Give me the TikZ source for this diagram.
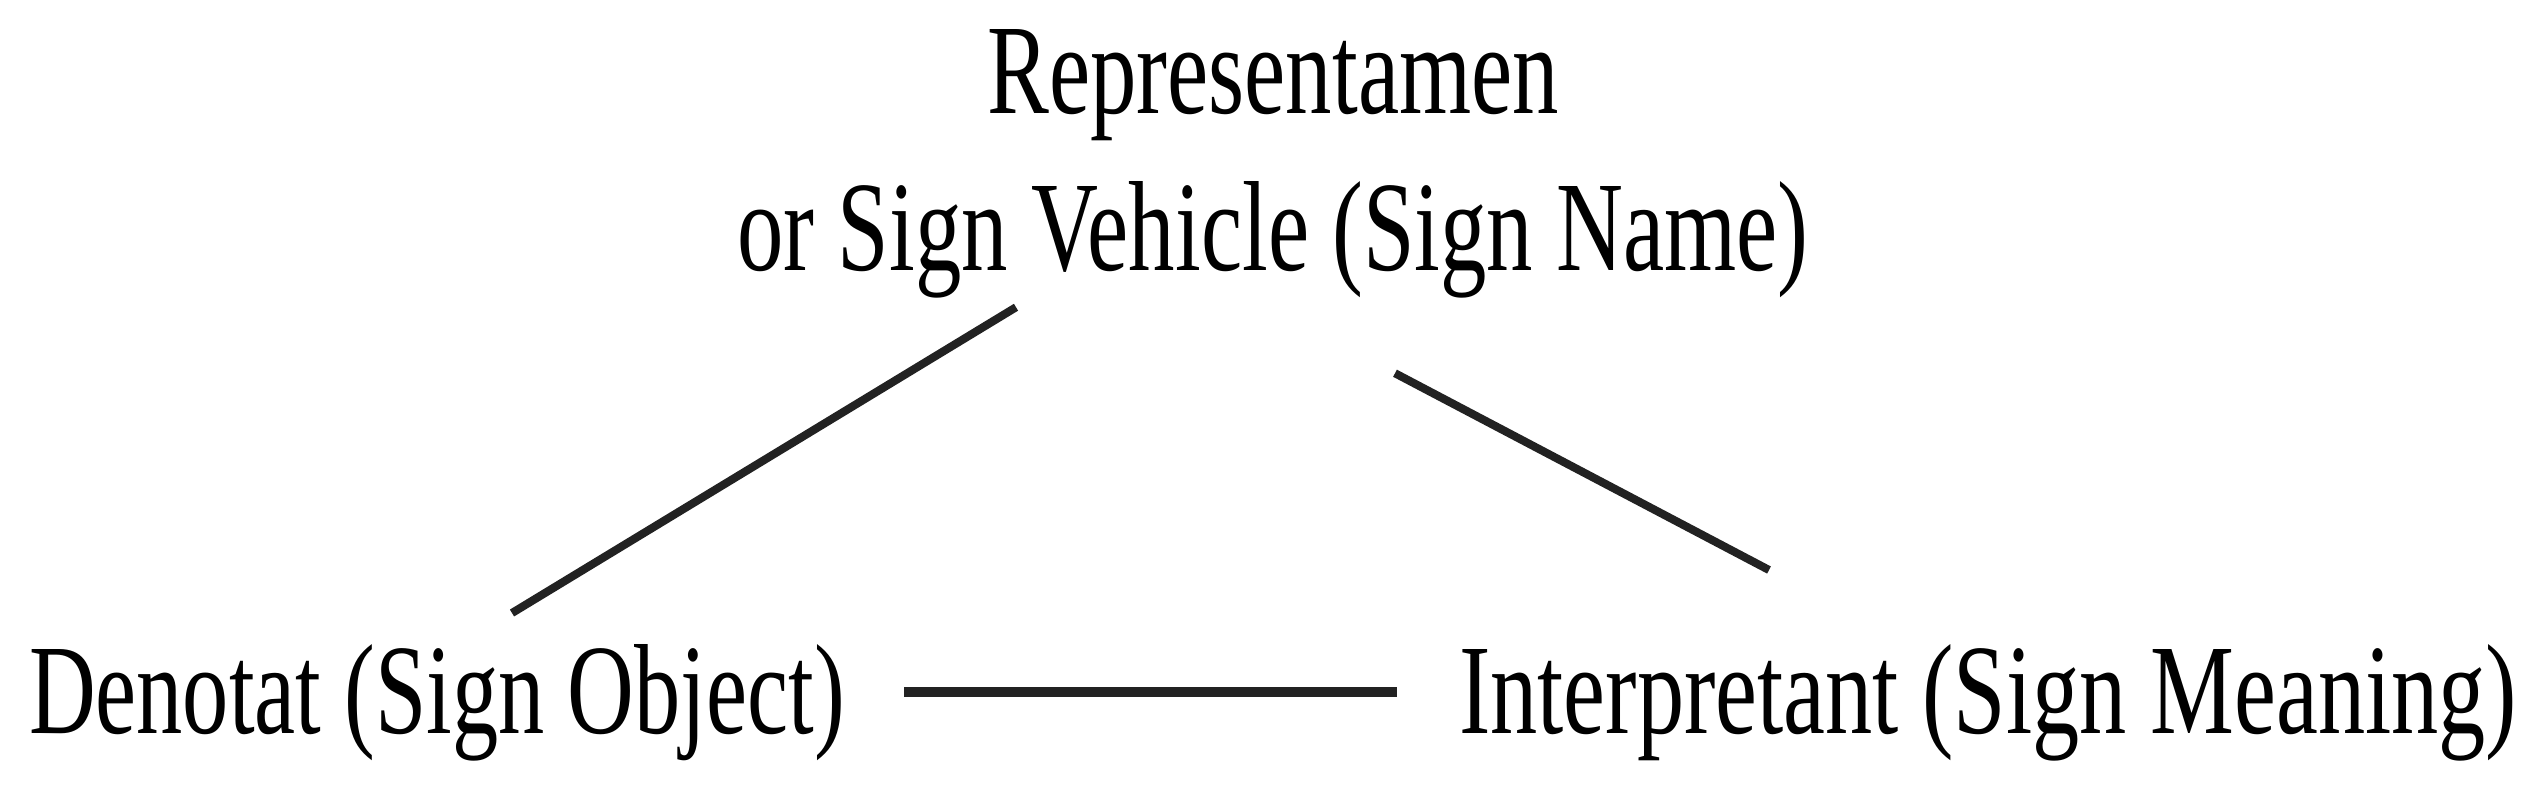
\documentclass[tikz,border=0pt]{standalone}
\usepackage{fontspec}
\setmainfont{Liberation Serif}
\usepackage{graphicx}
\usetikzlibrary{calc}
\definecolor{LineGray}{RGB}{34, 34, 34}
\newcommand{\squeeze}[2]{\resizebox{#1}{\height}{#2}}

\begin{document}
\begin{tikzpicture}[
    term/.style={inner sep=0pt, outer sep=0pt, text=black, font=\fontsize{36.5}{44.7}\selectfont},
    link/.style={LineGray, line width=2.3pt},
    baselink/.style={LineGray, line width=3pt}
]
\useasboundingbox (0,0) rectangle (25.47,7.84);

% Terms of the triangle
\node[term, anchor=base] (rep) at (12.73,6.71) {\squeeze{10.71cm}{\begin{tabular}[t]{@{}c@{}}Representamen\\or Sign Vehicle (Sign Name)\end{tabular}}};
\node[term, anchor=base] (den) at (4.37,0.51) {\squeeze{8.16cm}{Denotat (Sign Object)}};
\node[term, anchor=base] (int) at (19.88,0.51) {\squeeze{10.58cm}{Interpretant (Sign Meaning)}};

% Sides of the triangle
\draw[link] ([xshift=-2.57cm, yshift=0.10cm]rep.south) -- ([xshift=0.75cm, yshift=1.20cm]den.base);
\draw[link] ([xshift=1.22cm, yshift=-0.56cm]rep.south) -- ([xshift=-2.19cm, yshift=1.63cm]int.base);
\draw[baselink] ([xshift=0.59cm, yshift=0.41cm]den.base east) -- ([xshift=-0.62cm, yshift=0.41cm]int.base west);

\end{tikzpicture}
\end{document}
